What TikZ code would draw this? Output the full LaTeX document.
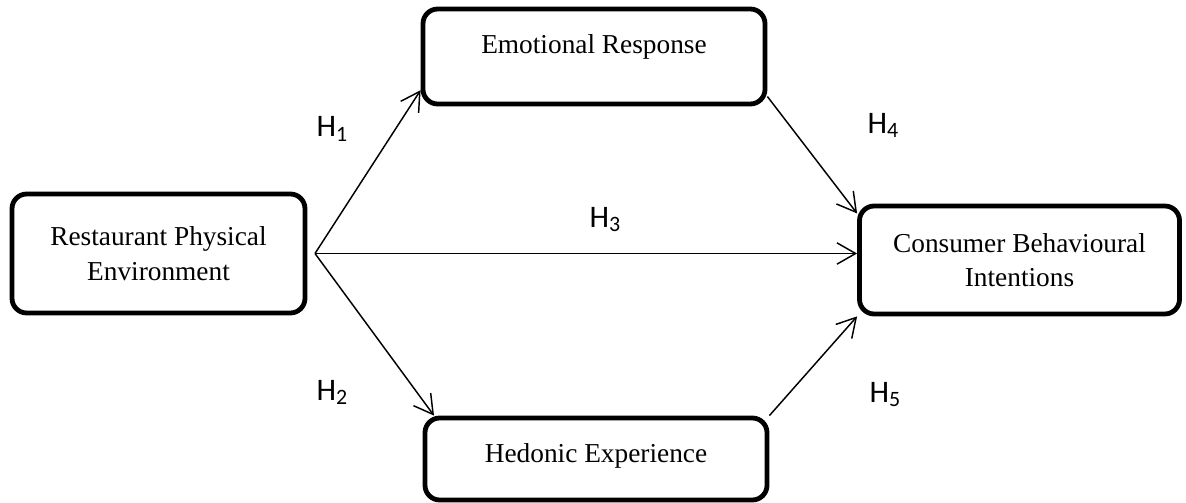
\documentclass[tikz,border=0pt]{standalone}
\usepackage{fontspec}
\setmainfont{Liberation Serif}
\newfontfamily\labfont{Carlito}
\usepackage{tikz}
\usetikzlibrary{arrows.meta,positioning}

\begin{document}
\begin{tikzpicture}[x=0.75pt,y=-0.75pt,
  box/.style={draw,line width=3.6pt,rounded corners=11pt,align=center,font=\fontsize{20.5}{26}\selectfont},
  arr/.style={-{Straight Barb[length=14pt,width=16pt]},line width=1.1pt},
  hyp/.style={anchor=base west,font=\labfont\fontsize{23.5}{26}\selectfont}]
\useasboundingbox (0,0) rectangle (1186,503);
\node[box,minimum width=219.75pt,minimum height=89.25pt] (rpe) at (158.5,253.5) {Restaurant Physical\\Environment};
\node[box,minimum width=256.5pt,minimum height=71.25pt,text height=14pt,text depth=19.2pt] (emo) at (594,56.5) {Emotional Response};
\node[box,minimum width=256.5pt,minimum height=61.5pt,text height=14pt,text depth=8.6pt] (hed) at (596,459) {Hedonic Experience};
\node[box,minimum width=240pt,minimum height=81pt] (cbi) at (1019.5,260) {Consumer Behavioural\\Intentions};
\coordinate[right=5.7pt of rpe.east] (src);
% hypothesised paths
\draw[arr] (src) -- (emo.191);\draw[arr] (src) -- (hed.165);\draw[arr] (src) -- (src -| cbi.west);
\draw[arr] (emo.347) -- (cbi.164);\draw[arr] (hed.north east) -- (cbi.south west);
\node[hyp] (h1) at (312,137) {H\textsubscript{1}};
\node[hyp] (h2) at (312,400) {H\textsubscript{2}};
\node[hyp] (h3) at (585,227) {H\textsubscript{3}};
\node[hyp] (h4) at (863,133) {H\textsubscript{4}};
\node[hyp] (h5) at (865,402) {H\textsubscript{5}};
\end{tikzpicture}
\end{document}
